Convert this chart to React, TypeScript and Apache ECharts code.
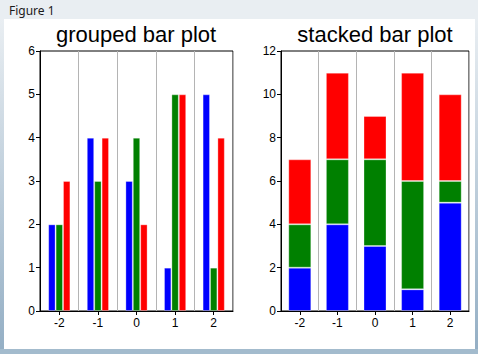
import React, { useEffect, useRef } from "react";
import * as echarts from "echarts";

const categories = ["-2", "-1", "0", "1", "2"];
const blueValues = [2, 4, 3, 1, 5];
const greenValues = [2, 3, 4, 5, 1];
const redValues = [3, 4, 2, 5, 4];
const leftTitle = "grouped bar plot";
const rightTitle = "stacked bar plot";
const windowTitle = "Figure 1";

const BLUE = "#0000ff";
const GREEN = "#008000";
const RED = "#ff0000";
const FONT = "Liberation Sans, Arial, sans-serif";

export default function App() {
  const ref = useRef<HTMLDivElement>(null);
  useEffect(() => {
    if (!ref.current) return;
    const chart = echarts.init(ref.current, null, { renderer: "svg" });

    const xAxisBase = (gridIndex: number) => ({
      type: "category" as const,
      gridIndex,
      data: categories,
      boundaryGap: true,
      axisLine: { show: true, lineStyle: { color: "#000", width: 1 } },
      axisTick: { show: true, alignWithLabel: true, length: 4, lineStyle: { color: "#000" } },
      axisLabel: { color: "#000", fontSize: 12, fontFamily: FONT, margin: 6 },
      splitLine: { show: true, interval: 0, lineStyle: { color: "#b4b4b4", width: 1 } },
    });
    const yAxisBase = (gridIndex: number, max: number, interval: number) => ({
      type: "value" as const,
      gridIndex,
      min: 0,
      max,
      interval,
      axisLine: { show: true, lineStyle: { color: "#000", width: 1 } },
      axisTick: { show: true, length: 4, lineStyle: { color: "#000" } },
      axisLabel: { color: "#000", fontSize: 12, fontFamily: FONT, margin: 5 },
      splitLine: { show: false },
    });

    const edge = (c: string) => ({ color: c, borderColor: "rgba(255,255,255,0.3)", borderWidth: 1 });

    chart.setOption({
      animation: false,
      backgroundColor: "#ffffff",
      graphic: [
        { type: "rect", shape: { x: 0, y: 0, width: 478, height: 354 }, style: { fill: "#e9eef2" }, z: -10 },
        {
          type: "rect",
          shape: { x: 0, y: 19, width: 4, height: 335 },
          style: {
            fill: new echarts.graphic.LinearGradient(0, 0, 0, 1, [
              { offset: 0, color: "#e9eef2" },
              { offset: 1, color: "#93aec4" },
            ]),
          },
          z: -9,
        },
        {
          type: "rect",
          shape: { x: 475, y: 19, width: 3, height: 335 },
          style: {
            fill: new echarts.graphic.LinearGradient(0, 0, 0, 1, [
              { offset: 0, color: "#e9eef2" },
              { offset: 1, color: "#93aec4" },
            ]),
          },
          z: -9,
        },
        { type: "rect", shape: { x: 0, y: 349, width: 478, height: 5 }, style: { fill: "#a3bbcd" }, z: -9 },
        { type: "rect", shape: { x: 4, y: 19, width: 471, height: 330 }, style: { fill: "#ffffff" }, z: -8 },
        {
          type: "text",
          x: 9,
          y: 4,
          style: { text: windowTitle, fontSize: 12, fontFamily: "Noto Sans, sans-serif", fill: "#1a1a1a" },
          z: 10,
        },
      ],
      title: [
        {
          text: leftTitle,
          left: 136,
          top: 23,
          padding: 0,
          textAlign: "center",
          textStyle: { fontSize: 22, fontWeight: "normal", color: "#000", fontFamily: FONT },
        },
        {
          text: rightTitle,
          left: 375,
          top: 23,
          padding: 0,
          textAlign: "center",
          textStyle: { fontSize: 22, fontWeight: "normal", color: "#000", fontFamily: FONT },
        },
      ],
      grid: [
        { left: 40, top: 51, width: 193, height: 260, show: true, borderColor: "#000", borderWidth: 1, backgroundColor: "transparent" },
        { left: 281, top: 51, width: 188, height: 260, show: true, borderColor: "#000", borderWidth: 1, backgroundColor: "transparent" },
      ],
      xAxis: [xAxisBase(0), xAxisBase(1)],
      yAxis: [yAxisBase(0, 6, 1), yAxisBase(1, 12, 2)],
      series: [
        { type: "bar", xAxisIndex: 0, yAxisIndex: 0, data: blueValues, barWidth: 7.4, barGap: "0%", itemStyle: edge(BLUE) },
        { type: "bar", xAxisIndex: 0, yAxisIndex: 0, data: greenValues, barWidth: 7.4, barGap: "0%", itemStyle: edge(GREEN) },
        { type: "bar", xAxisIndex: 0, yAxisIndex: 0, data: redValues, barWidth: 7.4, barGap: "0%", itemStyle: edge(RED) },
        { type: "bar", xAxisIndex: 1, yAxisIndex: 1, stack: "s", data: blueValues, barWidth: 23, itemStyle: edge(BLUE) },
        { type: "bar", xAxisIndex: 1, yAxisIndex: 1, stack: "s", data: greenValues, barWidth: 23, itemStyle: edge(GREEN) },
        { type: "bar", xAxisIndex: 1, yAxisIndex: 1, stack: "s", data: redValues, barWidth: 23, itemStyle: edge(RED) },
      ],
    });
    return () => chart.dispose();
  }, []);
  return (
    <div style={{ position: "fixed", left: 0, top: 0, width: 478, height: 354 }}>
      <div ref={ref} style={{ width: 478, height: 354 }} />
    </div>
  );
}
